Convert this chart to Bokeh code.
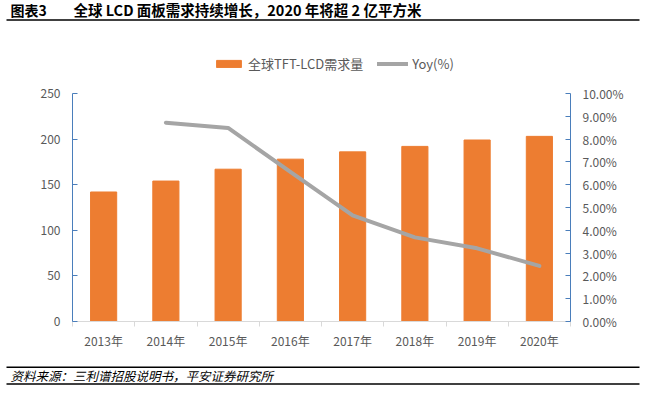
from bokeh.plotting import figure
from bokeh.models import (Range1d, LinearAxis, FixedTicker, Legend, LegendItem,
                          ColumnDataSource)
from bokeh.layouts import column
from bokeh.core.properties import value
from bokeh.embed import file_html
from bokeh.resources import INLINE

years = ["2013年", "2014年", "2015年", "2016年", "2017年", "2018年", "2019年", "2020年"]
demand = [142, 154, 167, 178, 186, 192, 199, 203]
yoy_years = ["2014年", "2015年", "2016年", "2017年", "2018年", "2019年", "2020年"]
yoy = [8.72, 8.49, 6.56, 4.65, 3.69, 3.21, 2.44]
left_ticks = [0, 50, 100, 150, 200, 250]
right_ticks = [0, 1, 2, 3, 4, 5, 6, 7, 8, 9, 10]

title_tag = "图表3"
title_text = "全球 LCD 面板需求持续增长，2020 年将超 2 亿平方米"
source_text = "资料来源：三利谱招股说明书，平安证券研究所"
bar_name = "全球TFT-LCD需求量"
line_name = "Yoy(%)"

FONT = "Noto Sans CJK SC"
GRAY_TXT = "#595959"
AXIS_BLUE = "#4a7ebb"
W = 649


def blank_fig(h):
    f = figure(width=W, height=h, output_backend="svg", toolbar_location=None,
               x_range=Range1d(0, W), y_range=Range1d(h, 0),
               min_border=0, x_axis_location=None, y_axis_location=None,
               frame_align=False)
    f.outline_line_color = None
    f.grid.visible = False
    f.border_fill_color = "white"
    f.background_fill_color = "white"
    return f


# ---------- title strip ----------
TH = 24
t = blank_fig(TH)
t.text(x=[10], y=[9], text=[title_tag], text_font=value(FONT), text_font_size="14px",
       text_font_style="bold", text_color="black", text_baseline="middle")
t.text(x=[73], y=[9], text=[title_text], text_font=value(FONT), text_font_size="14.5px",
       text_font_style="bold", text_color="black", text_baseline="middle")
t.segment(x0=[6], y0=[19.5], x1=[639], y1=[19.5], line_color="black", line_width=1.5)

# ---------- main chart ----------
FRAME_H = 272
FRAME_W = 498
PX_PER_UNIT = 228 / 250
y_end = FRAME_H / PX_PER_UNIT
pct_end = y_end * 10 / 250

xs = [i + 0.5 for i in range(len(years))]
yoy_x = [years.index(y) + 0.5 for y in yoy_years]

p = figure(width=W, height=333, output_backend="svg", toolbar_location=None,
           x_range=Range1d(0, len(years)), y_range=Range1d(0, y_end),
           frame_width=FRAME_W, frame_height=FRAME_H,
           min_border_left=72, min_border_right=W - 72 - FRAME_W,
           min_border_top=25, min_border_bottom=36,
           x_axis_location=None, y_axis_location=None, frame_align=False)
p.outline_line_color = None
p.grid.visible = False
p.background_fill_color = "white"
p.border_fill_color = "white"
p.extra_y_ranges = {"pct": Range1d(0, pct_end)}

xax = LinearAxis(ticker=FixedTicker(ticks=xs, minor_ticks=list(range(len(years) + 1))),
                 major_label_overrides={x: y for x, y in zip(xs, years)})
xax.axis_line_color = "#d9d9d9"
xax.major_tick_line_color = None
xax.major_tick_in = 0
xax.major_tick_out = 0
xax.minor_tick_line_color = "#d9d9d9"
xax.minor_tick_in = 0
xax.minor_tick_out = 5
xax.major_label_text_font = FONT
xax.major_label_text_font_size = "12px"
xax.major_label_text_color = GRAY_TXT
xax.major_label_standoff = 5
p.add_layout(xax, "below")

lax = LinearAxis(ticker=FixedTicker(ticks=left_ticks, minor_ticks=[]),
                 bounds=(left_ticks[0], left_ticks[-1]))
lax.axis_line_color = AXIS_BLUE
lax.major_tick_line_color = AXIS_BLUE
lax.major_tick_in = 5
lax.major_tick_out = 0
lax.minor_tick_line_color = None
lax.major_label_text_font = FONT
lax.major_label_text_font_size = "12px"
lax.major_label_text_color = GRAY_TXT
lax.major_label_standoff = 12
p.add_layout(lax, "left")

rax = LinearAxis(y_range_name="pct", ticker=FixedTicker(ticks=right_ticks, minor_ticks=[]),
                 bounds=(right_ticks[0], right_ticks[-1]))
rax.major_label_overrides = {t_: f"{t_:.2f}%" for t_ in right_ticks}
rax.axis_line_color = AXIS_BLUE
rax.major_tick_line_color = AXIS_BLUE
rax.major_tick_in = 5
rax.major_tick_out = 0
rax.minor_tick_line_color = None
rax.major_label_text_font = FONT
rax.major_label_text_font_size = "12px"
rax.major_label_text_color = GRAY_TXT
rax.major_label_standoff = 12
p.add_layout(rax, "right")

bsrc = ColumnDataSource(dict(x=xs, top=demand))
bars = p.vbar(x="x", top="top", width=0.42, source=bsrc, color="#ed7d31")
lsrc = ColumnDataSource(dict(x=yoy_x, y=yoy))
line = p.line(x="x", y="y", source=lsrc, y_range_name="pct", line_color="#a5a5a5",
              line_width=4, line_join="round", line_cap="round")

legend = Legend(items=[LegendItem(label=bar_name, renderers=[bars]),
                       LegendItem(label=line_name, renderers=[line])],
                orientation="horizontal", location=(141, 248),
                glyph_width=31, glyph_height=9, label_standoff=4, spacing=14,
                padding=0, margin=0, border_line_color=None, background_fill_alpha=0,
                label_text_font=FONT, label_text_font_size="13px",
                label_text_color=GRAY_TXT, label_height=14)
p.add_layout(legend, "center")

# ---------- source strip ----------
FH = 39
f = blank_fig(FH)
f.segment(x0=[6], y0=[9.7], x1=[639], y1=[9.7], line_color="black", line_width=1.5)
f.segment(x0=[6], y0=[26.5], x1=[639], y1=[26.5], line_color="black", line_width=1.5)
f.text(x=[10], y=[18], text=[source_text], text_font=value(FONT), text_font_size="12.5px",
       text_font_style="italic", text_color="black", text_baseline="middle")

layout = column(t, p, f, spacing=0)
open("out.html", "w").write(file_html(layout, INLINE))
